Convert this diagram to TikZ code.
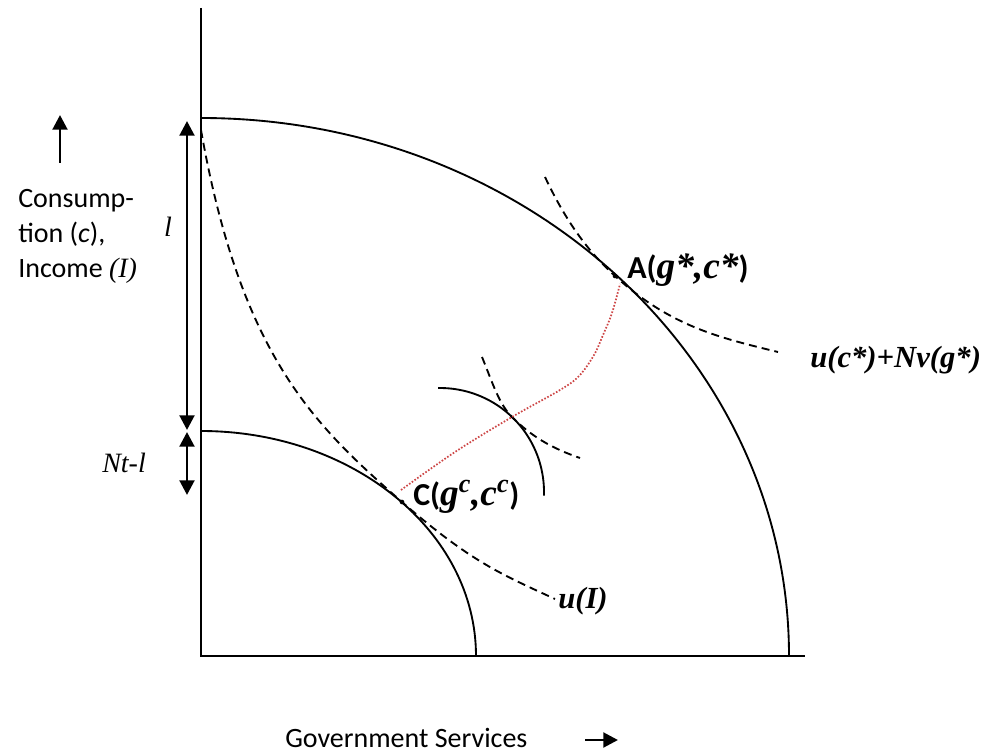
\documentclass[tikz,border=0pt]{standalone}
\usepackage{fontspec}
\setmainfont{Carlito}
\newfontfamily\tmsfont{Liberation Serif}
\usepackage{tikz}
\usetikzlibrary{arrows.meta, positioning}
\definecolor{dotred}{RGB}{205,70,70}
\newcommand{\bsi}[1]{{\tmsfont\bfseries\itshape #1}}
\newcommand{\lsi}[1]{{\tmsfont\itshape #1}}

\begin{document}
\begin{tikzpicture}[x=0.75pt, y=0.75pt,
  axis/.style={line width=2.2pt},
  frontier/.style={line width=1.4pt},
  indiff/.style={line width=1.4pt, dash pattern=on 6pt off 3.8pt},
  tippath/.style={dotred, line width=1.3pt, dash pattern=on 1.2pt off 1.3pt},
  marker/.style={line width=2.2pt, -{Triangle[width=11pt,length=11pt]}},
  twoway/.style={line width=2.2pt, {Triangle[width=11pt,length=11pt]}-{Triangle[width=11pt,length=11pt]}},
  txt/.style={inner sep=0pt, font=\fontsize{21}{26.25}\selectfont},
  pointlab/.style={inner sep=0pt, font=\fontsize{24}{28}\selectfont\bfseries},
  dot/.style={circle, fill, inner sep=0pt, minimum size=3.5pt}]
  \useasboundingbox (-201,-98) rectangle (797,656);
  % ============ axes ============
  \coordinate (O) at (0,0);
  \coordinate (ytop) at (0,648);
  \coordinate (xend) at (604,0);
  \draw[axis] (ytop) -- (O) -- (xend);
  % ============ frontiers ============
  \draw[frontier] (0,538) arc[start angle=90, end angle=0, x radius=588, y radius=538];
  \draw[frontier] (0,225) arc[start angle=90, end angle=0, x radius=275, y radius=225];
  \draw[frontier] (239,164) ++(91:104) arc[start angle=91, end angle=-2, radius=104];
  % ============ indifference curves ============
  \node[dot] (C) at (201,154) {};
  \node[dot] (A) at (414,380) {};
  \coordinate (M) at (311,239);
  \draw[indiff] (0,526) .. controls (40,300) and (113,231) .. (C.center)
    .. controls (270,94) and (300,82) .. (354,57);
  \draw[indiff] (344,479) .. controls (368,428) and (392,400) .. (A.center)
    .. controls (470,329) and (520,318) .. (577,304);
  \draw[indiff] (281,299) .. controls (292,272) and (298,252) .. (M)
    .. controls (330,220) and (350,208) .. (379,198);
  % ============ path from C to A ============
  \draw[tippath] plot[smooth, tension=0.6] coordinates {(200,166) (254,204) (311,239) (359,266) (378,280) (393,301) (402,321) (411,343) (419,372)};
  % ============ labels ============
  \node[pointlab, anchor=base west] (Alab) at (426,378) {A({\fontsize{28}{32}\selectfont\bsi{g*,c*}})};
  \node[pointlab, anchor=base west] (Clab) at (212,151) {C({\fontsize{28}{32}\selectfont\bsi{g\textsuperscript{c},c\textsuperscript{c}}})};
  \node[txt, anchor=base west, font=\fontsize{23}{27}\selectfont] (uI) at (357,48) {\bsi{u(I)}};
  \node[txt, anchor=base west, font=\fontsize{23}{27}\selectfont] (uA) at (609,289) {\bsi{u(c*)+Nv(g*)}};
  \node[txt, anchor=north west, align=left] (ylab) at (-183,467) {Consump-\\tion (\textit{c}),\\Income \lsi{(I)}};
  \node[txt, anchor=base west] (xlab) at (84,-91) {Government Services};
  \node[txt, anchor=base] (llab) at (-33,419) {\lsi{l}};
  \node[txt, anchor=base west] (nlab) at (-99,184) {\lsi{Nt-l}};
  % ============ arrows ============
  \coordinate (ytail) at (-141,493);
  \coordinate (ytip) at (-141,541);
  \draw[marker] (ytail) -- (ytip);
  \coordinate (xtail) at (384,-84);
  \coordinate (xtip) at (417,-84);
  \draw[marker] (xtail) -- (xtip);
  \coordinate (ltop) at (-14,535);
  \coordinate (lbot) at (-14,226);
  \draw[twoway] (lbot) -- (ltop);
  \coordinate (ntop) at (-14,224);
  \coordinate (nbot) at (-14,161);
  \draw[twoway] (nbot) -- (ntop);
\end{tikzpicture}
\end{document}
